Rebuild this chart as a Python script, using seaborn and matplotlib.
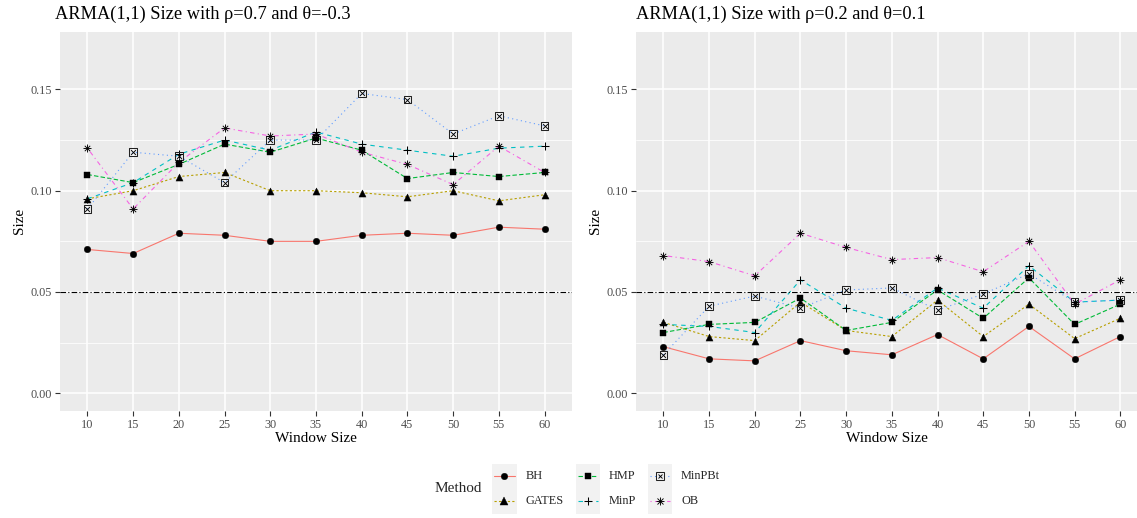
import matplotlib
matplotlib.use("Agg")
import matplotlib.pyplot as plt
from matplotlib.lines import Line2D
from matplotlib.patches import Rectangle
import numpy as np
import pandas as pd
import seaborn as sns

# ---------------------------------------------------------------- data
windows = [10, 15, 20, 25, 30, 35, 40, 45, 50, 55, 60]
methods = ["BH", "GATES", "HMP", "MinP", "MinPBt", "OB"]

# rho = 0.7, theta = -0.3
left_bh     = [0.071, 0.069, 0.079, 0.078, 0.075, 0.075, 0.078, 0.079, 0.078, 0.082, 0.081]
left_gates  = [0.096, 0.100, 0.107, 0.109, 0.100, 0.100, 0.099, 0.097, 0.100, 0.095, 0.098]
left_hmp    = [0.108, 0.104, 0.113, 0.123, 0.119, 0.126, 0.120, 0.106, 0.109, 0.107, 0.109]
left_minp   = [0.096, 0.104, 0.118, 0.125, 0.120, 0.129, 0.123, 0.120, 0.117, 0.121, 0.122]
left_minpbt = [0.091, 0.119, 0.117, 0.104, 0.125, 0.125, 0.148, 0.145, 0.128, 0.137, 0.132]
left_ob     = [0.121, 0.091, 0.114, 0.131, 0.127, 0.128, 0.119, 0.113, 0.103, 0.122, 0.109]

# rho = 0.2, theta = 0.1
right_bh     = [0.023, 0.017, 0.016, 0.026, 0.021, 0.019, 0.029, 0.017, 0.033, 0.017, 0.028]
right_gates  = [0.035, 0.028, 0.026, 0.045, 0.031, 0.028, 0.046, 0.028, 0.044, 0.027, 0.037]
right_hmp    = [0.030, 0.034, 0.035, 0.047, 0.031, 0.035, 0.051, 0.037, 0.057, 0.034, 0.044]
right_minp   = [0.034, 0.033, 0.030, 0.056, 0.042, 0.036, 0.052, 0.042, 0.063, 0.045, 0.046]
right_minpbt = [0.019, 0.043, 0.048, 0.042, 0.051, 0.052, 0.041, 0.049, 0.059, 0.045, 0.046]
right_ob     = [0.068, 0.065, 0.058, 0.079, 0.072, 0.066, 0.067, 0.060, 0.075, 0.044, 0.056]

nominal_level = 0.05
y_ticks = [0.00, 0.05, 0.10, 0.15]
y_tick_labels = ["0.00", "0.05", "0.10", "0.15"]
titles = ["ARMA(1,1) Size with \u03c1=0.7 and \u03b8=-0.3",
          "ARMA(1,1) Size with \u03c1=0.2 and \u03b8=0.1"]


def long_frame(series):
    rows = []
    for m, vals in zip(methods, series):
        for w, v in zip(windows, vals):
            rows.append({"Window": w, "Size": v, "Method": m})
    return pd.DataFrame(rows)


left_df = long_frame([left_bh, left_gates, left_hmp, left_minp, left_minpbt, left_ob])
right_df = long_frame([right_bh, right_gates, right_hmp, right_minp, right_minpbt, right_ob])

# ---------------------------------------------------------------- styling
PALETTE = {"BH": "#F8766D", "GATES": "#B79F00", "HMP": "#00BA38",
           "MinP": "#00BFC4", "MinPBt": "#619CFF", "OB": "#F564E3"}
DASHES = {"BH": "", "GATES": (2, 2), "HMP": (4, 2), "MinP": (4, 4),
          "MinPBt": (1, 3), "OB": (1, 3, 4, 3)}
LW = 0.8
MARKS = {
    "BH": [dict(marker="o", s=22, facecolor="black", edgecolor="black", linewidth=0.3)],
    "GATES": [dict(marker="^", s=26, facecolor="black", edgecolor="black", linewidth=0.3)],
    "HMP": [dict(marker="s", s=20, facecolor="black", edgecolor="black", linewidth=0.3)],
    "MinP": [dict(marker="+", s=30, color="black", linewidth=0.75)],
    "MinPBt": [dict(marker="s", s=30, facecolor="none", edgecolor="#222222", linewidth=0.75),
               dict(marker="x", s=12, color="black", linewidth=0.65)],
    "OB": [dict(marker="+", s=30, color="black", linewidth=0.65),
           dict(marker="x", s=15, color="black", linewidth=0.65)],
}

sns.set_theme(style="darkgrid", rc={
    "axes.facecolor": "#EBEBEB",
    "grid.color": "white",
    "axes.edgecolor": "white",
})
plt.rcParams["font.family"] = ["Liberation Serif", "DejaVu Serif"]

W, H = 1137, 518
fig = plt.figure(figsize=(W / 100, H / 100), dpi=100)


def fx(px):
    return px / W


def fy(py):
    return 1 - py / H


panel_top, panel_bot = 31.7, 410.5
ax_l = fig.add_axes([fx(60), fy(panel_bot), fx(512), (panel_bot - panel_top) / H])
ax_r = fig.add_axes([fx(636), fy(panel_bot), fx(501), (panel_bot - panel_top) / H])

for ax, df, xlim, title, tx in [
        (ax_l, left_df, (7.0, 63.0), titles[0], 55),
        (ax_r, right_df, (7.0, 61.83), titles[1], 636)]:
    sns.lineplot(data=df, x="Window", y="Size", hue="Method", style="Method",
                 palette=PALETTE, dashes=DASHES, linewidth=LW, errorbar=None,
                 sort=False, legend=False, ax=ax, zorder=2)
    for m in methods:
        sub = df[df["Method"] == m]
        for spec in MARKS[m]:
            sns.scatterplot(data=sub, x="Window", y="Size", ax=ax, legend=False,
                            zorder=3, **spec)
    ax.axhline(nominal_level, color="black", linewidth=0.8, dashes=(5, 2, 1, 2), zorder=2.5)

    ax.set_xlim(*xlim)
    ax.set_ylim(-0.0085, 0.1785)
    ax.set_xticks(windows)
    ax.set_xticklabels([str(w) for w in windows])
    ax.set_yticks(y_ticks)
    ax.set_yticklabels(y_tick_labels)
    ax.set_yticks([0.025, 0.075, 0.125], minor=True)
    ax.grid(which="major", color="white", linewidth=1.1)
    ax.grid(which="minor", axis="y", color="white", linewidth=0.55)
    ax.grid(which="minor", axis="x", visible=False)
    for sp in ax.spines.values():
        sp.set_visible(False)
    ax.tick_params(axis="both", which="major", length=3.5, width=0.8, color="#333333",
                   labelsize=8.8, labelcolor="#4D4D4D", pad=2.5)
    ax.tick_params(axis="both", which="minor", length=0)
    ax.tick_params(axis="x", bottom=True)
    ax.tick_params(axis="y", left=True)
    ax.set_xlabel("Window Size", fontsize=11, color="black", labelpad=1)
    ax.set_ylabel("Size", fontsize=11, color="black", labelpad=3)
    fig.text(fx(tx), fy(14), title, fontsize=13.2, ha="left", va="center", color="black")

# ---------------------------------------------------------------- legend
fig.text(fx(435), fy(489), "Method", fontsize=11, ha="left", va="center")
key_cols = [(492.3, 526), (575.7, 609), (647.7, 681)]
row_tops = [463.5, 488.5]
key_w, key_h = 24.3, 25
for i, m in enumerate(methods):
    col, row = divmod(i, 2)
    kx, lx = key_cols[col]
    ky = row_tops[row]
    fig.add_artist(Rectangle((fx(kx), fy(ky + key_h)), fx(key_w), key_h / H,
                             transform=fig.transFigure, facecolor="#F2F2F2",
                             edgecolor="none"))
    cy = fy(ky + key_h / 2)
    line = Line2D([fx(kx + 2), fx(kx + key_w - 2)], [cy, cy], transform=fig.transFigure,
                  color=PALETTE[m], linewidth=LW)
    if DASHES[m]:
        line.set_dashes(DASHES[m])
    fig.add_artist(line)
    for spec in MARKS[m]:
        mk = spec["marker"]
        size = np.sqrt(spec["s"])
        face = spec.get("facecolor", "black")
        edge = spec.get("edgecolor", spec.get("color", "black"))
        fig.add_artist(Line2D([fx(kx + key_w / 2)], [cy], transform=fig.transFigure,
                              marker=mk, markersize=size, linestyle="none",
                              markerfacecolor=face, markeredgecolor=edge,
                              markeredgewidth=spec.get("linewidth", 0.5)))
    fig.text(fx(lx), cy, m, fontsize=8.8, ha="left", va="center")

fig.savefig("out.png", dpi=100)
